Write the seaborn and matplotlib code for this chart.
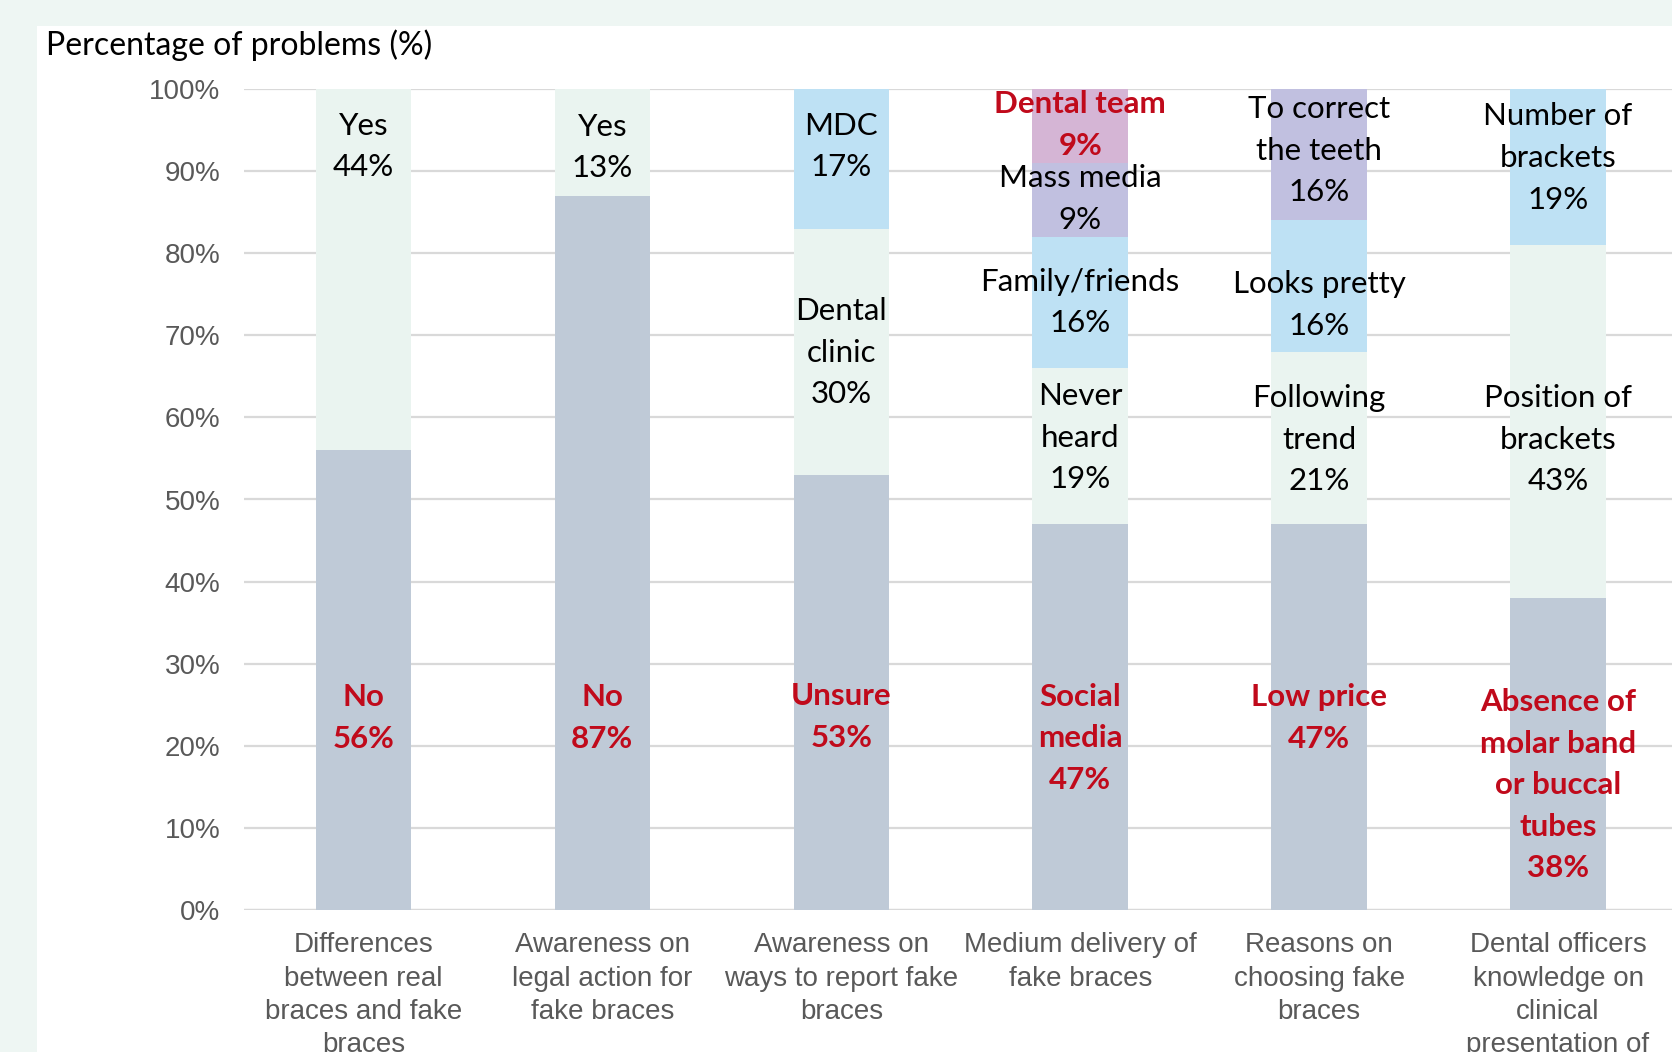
import pandas as pd
import matplotlib.pyplot as plt
import matplotlib.patches as mpatches
import seaborn as sns
from matplotlib import font_manager

# Categorias (eixo x)
categorias = [
    "Differences\nbetween real\nbraces and fake\nbraces",
    "Awareness on\nlegal action for\nfake braces",
    "Awareness on\nways to report fake\nbraces",
    "Medium delivery of\nfake braces",
    "Reasons on\nchoosing fake\nbraces",
    "Dental officers\nknowledge on\nclinical\npresentation of\nfake braces",
]

# Camadas empilhadas (de baixo para cima), em %
camada_1 = [56, 87, 53, 47, 47, 38]
camada_2 = [44, 13, 30, 19, 21, 43]
camada_3 = [0, 0, 17, 16, 16, 19]
camada_4 = [0, 0, 0, 9, 16, 0]
camada_5 = [0, 0, 0, 9, 0, 0]
camadas = [camada_1, camada_2, camada_3, camada_4, camada_5]
cores = ["#BFCAD7", "#EAF4F0", "#BEE1F4", "#C1C0E0", "#D5B5D5"]

# Rótulos: (categoria, texto, posição y, vermelho?)
rotulos = [
    (0, "Yes\n44%", 93.0, False),
    (0, "No\n56%", 23.4, True),
    (1, "Yes\n13%", 92.9, False),
    (1, "No\n87%", 23.4, True),
    (2, "MDC\n17%", 93.0, False),
    (2, "Dental\nclinic\n30%", 67.9, False),
    (2, "Unsure\n53%", 23.5, True),
    (3, "Dental team\n9%", 95.6, True),
    (3, "Mass media\n9%", 86.6, False),
    (3, "Family/friends\n16%", 74.0, False),
    (3, "Never\nheard\n19%", 57.5, False),
    (3, "Social\nmedia\n47%", 20.9, True),
    (4, "To correct\nthe teeth\n16%", 92.5, False),
    (4, "Looks pretty\n16%", 73.7, False),
    (4, "Following\ntrend\n21%", 57.3, False),
    (4, "Low price\n47%", 23.4, True),
    (5, "Number of\nbrackets\n19%", 91.6, False),
    (5, "Position of\nbrackets\n43%", 57.3, False),
    (5, "Absence of\nmolar band\nor buccal\ntubes\n38%", 15.2, True),
]

disponiveis = {f.name for f in font_manager.fontManager.ttflist}
fonte_texto = "Lato" if "Lato" in disponiveis else "DejaVu Sans"
fonte_eixo = "Liberation Sans Narrow" if "Liberation Sans Narrow" in disponiveis else "Liberation Sans"

sns.set_style("white")
plt.rcParams["font.family"] = [fonte_texto, "DejaVu Sans"]

fig = plt.figure(figsize=(16.72, 10.52), dpi=100, facecolor="#EEF6F3")
fig.patches.append(mpatches.Rectangle((37 / 1672, 0), 1, 1 - 26 / 1052,
                                      transform=fig.transFigure, facecolor="white",
                                      edgecolor="none", zorder=-10))
ax = fig.add_axes([244 / 1672, 1 - 910 / 1052, 1 - 244 / 1672, 821 / 1052])
ax.set_zorder(1)
ax.patch.set_alpha(0)

# Empilhamento: desenhar somas acumuladas, da maior para a menor
acumulado = [0] * len(categorias)
totais = []
for camada in camadas:
    acumulado = [a + v for a, v in zip(acumulado, camada)]
    totais.append(list(acumulado))

for nivel in range(len(camadas) - 1, -1, -1):
    df = pd.DataFrame({"cat": categorias, "valor": totais[nivel], "mostrar": camadas[nivel]})
    df.loc[df["mostrar"] == 0, "valor"] = 0
    sns.barplot(data=df, x="cat", y="valor", color=cores[nivel], width=0.4,
                saturation=1, order=categorias, ax=ax, zorder=2,
                linewidth=0, edgecolor="none")

for cat, texto, y, vermelho in rotulos:
    ax.text(cat, y, texto, ha="center", va="center", fontsize=22.5,
            linespacing=1.59, color="#C00A1B" if vermelho else "black",
            fontweight="bold" if vermelho else "normal", zorder=5)

ax.set_ylim(0, 100)
ax.set_xlim(-0.5, 5.477)
ax.set_yticks(range(0, 101, 10))
ax.set_yticklabels([f"{v}%" for v in range(0, 101, 10)])
ax.yaxis.grid(True, color="#D9D9D9", linewidth=1.6, zorder=0)
ax.set_axisbelow(True)
for lado in ax.spines.values():
    lado.set_visible(False)
ax.axhline(0, color="#D9D9D9", linewidth=1.6, zorder=1)
ax.tick_params(axis="y", length=0, pad=17, labelsize=20, labelcolor="#595959")
ax.tick_params(axis="x", length=0, pad=16, labelsize=20, labelcolor="#595959")
for t in ax.get_xticklabels() + ax.get_yticklabels():
    t.set_fontfamily([fonte_eixo, "DejaVu Sans"])
for t in ax.get_xticklabels():
    t.set_linespacing(1.37)
ax.set_xlabel("")
ax.set_ylabel("")

fig.text(46 / 1672, 1 - 45 / 1052, "Percentage of problems (%)", ha="left", va="center",
         fontsize=23, color="black")

fig.savefig("out.png", dpi=100, facecolor=fig.get_facecolor())
